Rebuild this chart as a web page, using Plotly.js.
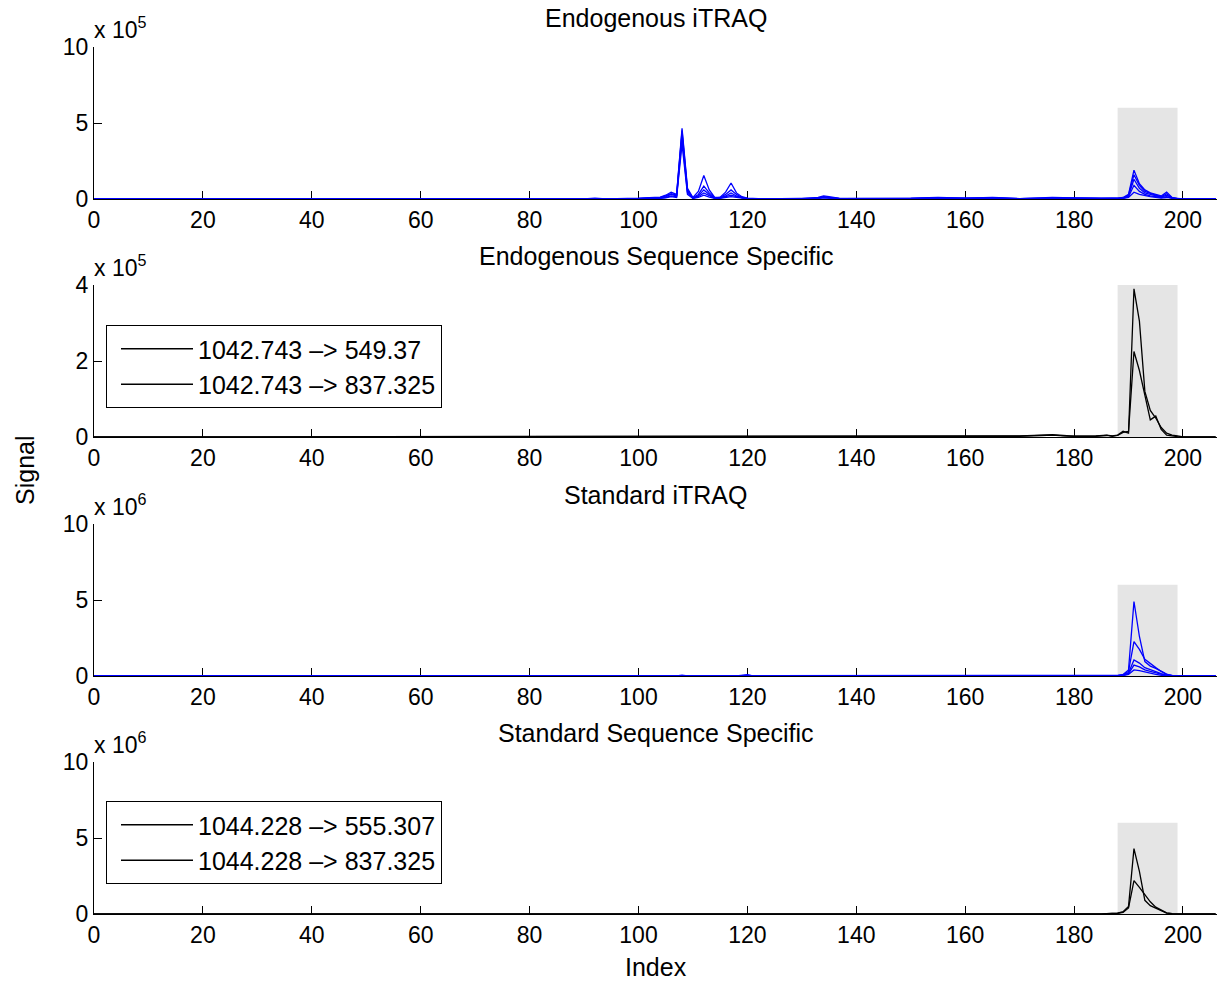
<!DOCTYPE html>
<html><head><meta charset="utf-8">
<script src="https://cdn.plot.ly/plotly-3.0.1.min.js"></script>
<style>html,body{margin:0;padding:0;background:#fff}</style>
</head><body><div id="chart" style="width:1217px;height:983px"></div>
<script>
// ---------- data (signal in units of the axis multiplier) ----------
const xTicks = [0, 20, 40, 60, 80, 100, 120, 140, 160, 180, 200];
const panelTitles = ['Endogenous iTRAQ', 'Endogenous Sequence Specific', 'Standard iTRAQ', 'Standard Sequence Specific'];
const panelExponents = [5, 5, 6, 6];
const panelYMax = [10, 4, 10, 10];
const panelYTicks = [[0, 5, 10], [0, 2, 4], [0, 5, 10], [0, 5, 10]];
const windowIndex = [188, 199];
const windowTop = [6, 4, 6, 6];

// Panel 1: Endogenous iTRAQ (x 10^5)
const endoItraqIndex = [0,90,92,94,100,102,104,105,106,107,108,109,110,111,112,113,114,115,116,117,118,119,120,122,130,133,134,135,137,150,155,160,165,170,176,180,185,188,189,190,191,192,193,194,195,196,197,198,199,200,206];
const endoItraq1 = [0,0,0.06,0,0.05,0.1,0.12,0.25,0.45,0.3,4.65,0.7,0.1,0.5,1.55,0.6,0.1,0.12,0.45,1.05,0.4,0.15,0.05,0.02,0.03,0.1,0.2,0.15,0.04,0.05,0.1,0.06,0.1,0.03,0.1,0.08,0.05,0.05,0.1,0.3,1.9,1.0,0.6,0.4,0.3,0.2,0.45,0.1,0.03,0,0];
const endoItraq2 = [0,0,0.03,0,0.03,0.08,0.1,0.2,0.35,0.25,4.5,0.6,0.08,0.3,0.85,0.4,0.08,0.1,0.3,0.6,0.3,0.1,0.04,0.01,0.02,0.08,0.15,0.1,0.03,0.04,0.08,0.05,0.08,0.02,0.08,0.06,0.04,0.04,0.08,0.25,1.6,0.9,0.5,0.35,0.25,0.15,0.35,0.08,0.02,0,0];
const endoItraq3 = [0,0,0.02,0,0.02,0.05,0.08,0.15,0.3,0.2,4.3,0.5,0.06,0.2,0.6,0.3,0.06,0.08,0.2,0.4,0.2,0.08,0.03,0.01,0.02,0.06,0.12,0.08,0.02,0.03,0.06,0.04,0.06,0.02,0.06,0.05,0.03,0.03,0.06,0.2,1.3,0.7,0.4,0.3,0.2,0.12,0.25,0.06,0.02,0,0];
const endoItraq4 = [0,0,0.01,0,0.02,0.04,0.06,0.1,0.2,0.15,4.0,0.4,0.05,0.15,0.4,0.2,0.05,0.06,0.15,0.25,0.15,0.06,0.02,0,0.01,0.04,0.1,0.06,0.02,0.02,0.05,0.03,0.05,0.01,0.05,0.04,0.02,0.02,0.05,0.15,0.9,0.5,0.3,0.2,0.15,0.1,0.15,0.05,0.01,0,0];
const endoItraq5 = [0,0,0.01,0,0.01,0.03,0.04,0.08,0.15,0.1,3.6,0.3,0.04,0.1,0.25,0.12,0.04,0.05,0.1,0.15,0.1,0.04,0.02,0,0.01,0.03,0.08,0.05,0.01,0.02,0.04,0.02,0.04,0.01,0.04,0.03,0.02,0.02,0.04,0.1,0.45,0.3,0.2,0.15,0.1,0.06,0.1,0.03,0.01,0,0];

// Panel 2: Endogenous Sequence Specific (x 10^5)
const endoSeqIndex = [0,160,165,170,174,176,178,180,184,186,187,188,189,190,191,192,193,194,195,196,197,198,199,200,206];
const endoSeqA = [0,0.02,0.02,0.03,0.05,0.06,0.04,0.02,0.03,0.05,0.03,0.05,0.15,0.1,3.9,3.05,1.2,0.7,0.5,0.25,0.1,0.05,0.03,0,0];
const endoSeqB = [0,0.01,0.02,0.02,0.04,0.05,0.03,0.02,0.02,0.04,0.02,0.04,0.12,0.15,2.25,1.75,1.1,0.45,0.55,0.2,0.05,0.02,0.01,0,0];
const endoSeqNames = ['1042.743 \u2013> 549.37', '1042.743 \u2013> 837.325'];

// Panel 3: Standard iTRAQ (x 10^6)
const stdItraqIndex = [0,107,108,109,118,119,120,121,185,188,189,190,191,192,193,194,195,196,197,198,199,206];
const stdItraq1 = [0,0,0.06,0,0,0.03,0.08,0,0,0.03,0.1,0.4,4.9,2.6,0.95,0.65,0.5,0.3,0.12,0.03,0,0];
const stdItraq2 = [0,0,0.03,0,0,0.02,0.05,0,0,0.02,0.08,0.3,2.26,1.75,1.1,0.8,0.55,0.3,0.1,0.02,0,0];
const stdItraq3 = [0,0,0.02,0,0,0.01,0.03,0,0,0.02,0.05,0.2,1.05,0.85,0.55,0.4,0.3,0.15,0.05,0.01,0,0];
const stdItraq4 = [0,0,0.01,0,0,0.01,0.02,0,0,0.01,0.04,0.15,0.72,0.6,0.4,0.3,0.2,0.1,0.03,0,0,0];
const stdItraq5 = [0,0,0.01,0,0,0,0.01,0,0,0.01,0.03,0.1,0.4,0.35,0.25,0.15,0.1,0.05,0.02,0,0,0];

// Panel 4: Standard Sequence Specific (x 10^6)
const stdSeqIndex = [0,185,188,189,190,191,192,193,194,195,196,197,198,199,206];
const stdSeqA = [0,0,0.05,0.15,0.5,4.3,2.8,0.9,0.55,0.4,0.2,0.06,0.02,0,0];
const stdSeqB = [0,0,0.05,0.1,0.4,2.2,1.75,1.25,0.8,0.45,0.25,0.08,0.02,0,0];
const stdSeqNames = ['1044.228 \u2013> 555.307', '1044.228 \u2013> 837.325'];

// ---------- figure ----------
const BLUE = '#0000ff', BLACK = '#000000';
const FONT = 'Liberation Sans, Arial, Helvetica, sans-serif';
const FS_TICK = 23, FS = 25;
const H = 983;
const panelPx = [[47, 199], [285, 437], [524, 676], [762, 914]];
const domains = panelPx.map(p => [(H - p[1]) / H, (H - p[0]) / H]);

function line(x, y, color, k, name, legend) {
  const t = {x: x, y: y, type: 'scatter', mode: 'lines',
    line: {color: color, width: 1.3}, xaxis: k === 1 ? 'x' : 'x' + k, yaxis: k === 1 ? 'y' : 'y' + k,
    showlegend: !!name, name: name || '', hoverinfo: 'x+y'};
  if (legend) t.legend = legend;
  return t;
}

const traces = [];
[endoItraq5, endoItraq4, endoItraq3, endoItraq2, endoItraq1].forEach(v => traces.push(line(endoItraqIndex, v, BLUE, 1)));
traces.push(line(endoSeqIndex, endoSeqA, BLACK, 2, endoSeqNames[0], 'legend'));
traces.push(line(endoSeqIndex, endoSeqB, BLACK, 2, endoSeqNames[1], 'legend'));
[stdItraq5, stdItraq4, stdItraq3, stdItraq2, stdItraq1].forEach(v => traces.push(line(stdItraqIndex, v, BLUE, 3)));
traces.push(line(stdSeqIndex, stdSeqA, BLACK, 4, stdSeqNames[0], 'legend2'));
traces.push(line(stdSeqIndex, stdSeqB, BLACK, 4, stdSeqNames[1], 'legend2'));

const layout = {
  width: 1217, height: 983,
  margin: {l: 94, r: 0, t: 0, b: 0, pad: 0},
  paper_bgcolor: '#fff', plot_bgcolor: '#fff',
  font: {family: FONT, size: FS, color: '#000'},
  showlegend: true,
  shapes: [], annotations: []
};

for (let i = 0; i < 4; i++) {
  const k = i + 1;
  const xa = 'xaxis' + (k === 1 ? '' : k), ya = 'yaxis' + (k === 1 ? '' : k);
  const yid = k === 1 ? 'y' : 'y' + k, xid = k === 1 ? 'x' : 'x' + k;
  layout[xa] = {anchor: yid, domain: [0, 1], range: [0, 206.25], tickvals: xTicks, ticktext: xTicks.map(String),
    ticks: 'inside', ticklen: 8, tickwidth: 1, tickcolor: '#000', showline: true, linecolor: '#000', linewidth: 1,
    showgrid: false, zeroline: false, layer: 'below traces', tickfont: {family: FONT, size: FS_TICK, color: '#000'}, fixedrange: true};
  layout[ya] = {anchor: xid, domain: domains[i], range: [0, panelYMax[i]], tickvals: panelYTicks[i],
    ticktext: panelYTicks[i].map(String), ticks: 'inside', ticklen: 8, tickwidth: 1, tickcolor: '#000',
    showline: true, linecolor: '#000', linewidth: 1, showgrid: false, zeroline: false, layer: 'below traces',
    tickfont: {family: FONT, size: FS_TICK, color: '#000'}, fixedrange: true};
  layout.shapes.push({type: 'rect', xref: xid, yref: yid, x0: windowIndex[0], x1: windowIndex[1], y0: 0, y1: windowTop[i],
    fillcolor: '#e5e5e5', line: {width: 0}, layer: 'below'});
  layout.annotations.push({xref: 'paper', yref: 'paper', x: 0.5, y: domains[i][1], xanchor: 'center', yanchor: 'bottom',
    yshift: 13, text: panelTitles[i], showarrow: false, font: {family: FONT, size: FS, color: '#000'}});
  layout.annotations.push({xref: 'paper', yref: 'paper', x: 0, y: domains[i][1], xanchor: 'left', yanchor: 'bottom',
    yshift: 2, xshift: -2, text: 'x 10<sup>' + panelExponents[i] + '</sup>', showarrow: false,
    font: {family: FONT, size: FS_TICK, color: '#000'}});
}
layout.annotations.push({xref: 'paper', yref: 'paper', x: (25 - 94) / 1123, y: (H - 470) / H, textangle: -90,
  xanchor: 'center', yanchor: 'middle', text: 'Signal', showarrow: false, font: {family: FONT, size: FS, color: '#000'}});
layout.annotations.push({xref: 'paper', yref: 'paper', x: 0.5, y: (H - 967) / H, xanchor: 'center', yanchor: 'middle',
  text: 'Index', showarrow: false, font: {family: FONT, size: FS, color: '#000'}});

const legendStyle = (topPx) => ({x: (106 - 94) / 1123, y: (H - topPx) / H, xanchor: 'left', yanchor: 'top',
  bgcolor: '#fff', bordercolor: '#000', borderwidth: 1, font: {family: FONT, size: FS, color: '#000'},
  itemwidth: 72, indentation: 9, tracegroupgap: 0, itemclick: false, itemdoubleclick: false});
layout.legend = legendStyle(325);
layout.legend2 = legendStyle(801);

Plotly.newPlot('chart', traces, layout, {displayModeBar: false, staticPlot: true});
</script></body></html>
